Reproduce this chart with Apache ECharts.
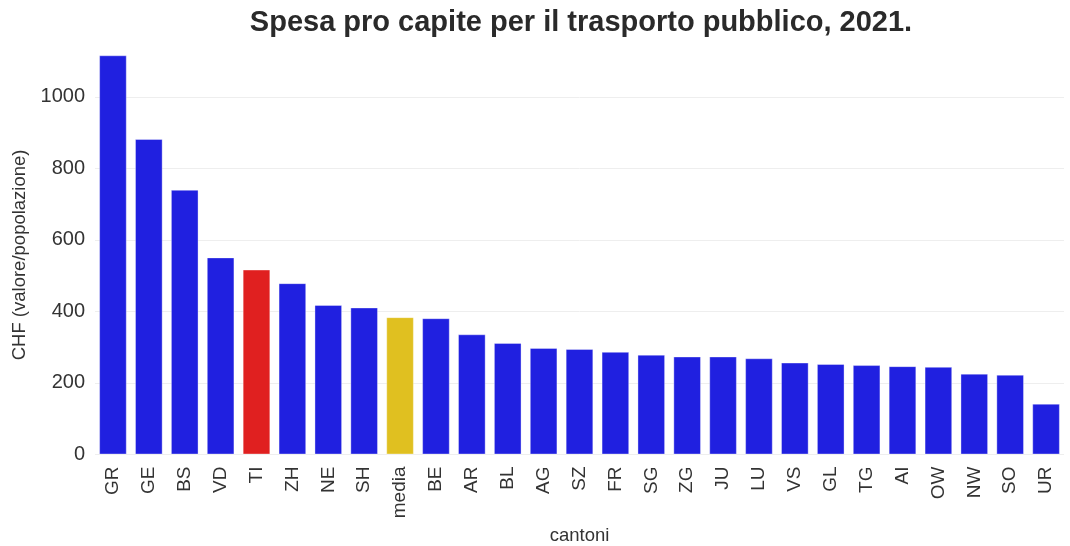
<!DOCTYPE html>
<html><head><meta charset="utf-8">
<script src="https://cdn.jsdelivr.net/npm/echarts@6/dist/echarts.min.js"></script>
<style>html,body{margin:0;padding:0;background:#fff}#c{width:1070px;height:546px}</style>
</head><body><div id="c"></div>
<script>
const categories = ['GR','GE','BS','VD','TI','ZH','NE','SH','media','BE','AR','BL','AG','SZ','FR','SG','ZG','JU','LU','VS','GL','TG','AI','OW','NW','SO','UR'];
const values = [1116,882,740,551,517,479,418,411,384,381,336,312,298,295,287,279,274,274,269,257,253,250,247,245,226,223,142];
const yTicks = [0,200,400,600,800,1000];
const COLORS = {base:'#2020e0', TI:'#e02020', media:'#e0c020'};

const chart = echarts.init(document.getElementById('c'), null, {renderer:'canvas'});
const font = 'Liberation Sans, Arial, sans-serif';
chart.setOption({
  animation:false,
  title:{text:'Spesa pro capite per il trasporto pubblico, 2021.', left:576, textAlign:'center', top:3,
    textStyle:{fontFamily:font, fontSize:29, fontWeight:'bold', color:'#2a2a2a'}},
  grid:{left:95, width:969, top:55.3, bottom:91.5, containLabel:false, outerBoundsMode:'none'},
  xAxis:{type:'category', data:categories,
    name:'cantoni', nameLocation:'middle', nameGap:72,
    nameTextStyle:{fontFamily:font, fontSize:18.5, color:'#333'},
    axisLine:{show:false}, axisTick:{show:false},
    axisLabel:{rotate:90, fontFamily:font, fontSize:19, color:'#333', margin:12, interval:0}},
  yAxis:{type:'value', min:0, max:1116, interval:200,
    name:'CHF (valore/popolazione)', nameLocation:'middle', nameGap:60,
    nameTextStyle:{fontFamily:font, fontSize:18.5, color:'#333'},
    axisLine:{show:false}, axisTick:{show:false},
    axisLabel:{fontFamily:font, fontSize:20, color:'#333', margin:10,
      formatter:v=>yTicks.includes(v)?String(v):''},
    splitLine:{showMaxLine:false, lineStyle:{color:'#eeeeee', width:1}}},
  series:[{type:'bar', barCategoryGap:'23%',
    data:values.map((v,i)=>({value:v, itemStyle:{color: COLORS[categories[i]] || COLORS.base}})),
    itemStyle:{borderColor:'rgba(255,255,255,0.35)', borderWidth:1}}]
});
</script></body></html>
